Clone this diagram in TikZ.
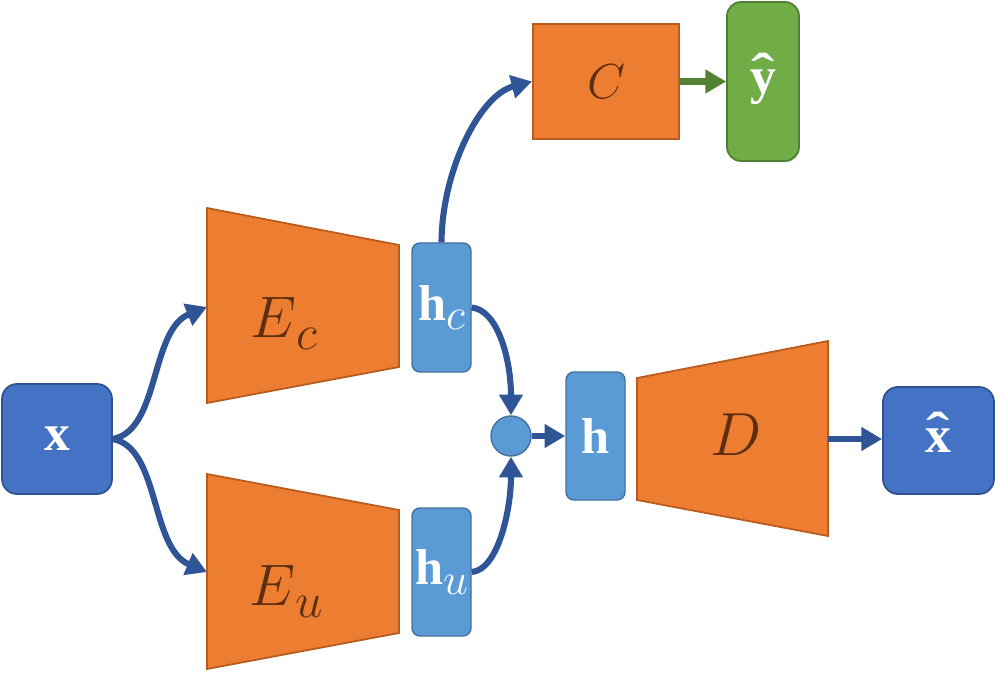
\RequirePackage{fix-cm}
\documentclass[tikz,border=0pt]{standalone}
\usepackage{graphicx}
\usepackage{fontspec}
\setmainfont{Liberation Serif}
\usetikzlibrary{arrows.meta}
\definecolor{dblue}{HTML}{4472C4}
\definecolor{dbluebd}{HTML}{2F528F}
\definecolor{lblue}{HTML}{5B9BD5}
\definecolor{lbluebd}{HTML}{41719C}
\definecolor{orng}{HTML}{ED7D31}
\definecolor{orngbd}{HTML}{B95B1E}
\definecolor{grn}{HTML}{70AD47}
\definecolor{grnbd}{HTML}{507E32}
\definecolor{arrblue}{HTML}{2F5597}
\definecolor{arrgrn}{HTML}{548235}
\definecolor{labbrown}{HTML}{5E2E10}
\newcommand{\hatbold}[1]{\ooalign{\textbf{#1}\cr\hidewidth\raisebox{0.07em}{\scalebox{1.35}[1]{\textbf{ˆ}}}\hidewidth\cr}}
\tikzset{
  dbox/.style={draw=dbluebd, fill=dblue, line width=1.5pt, rounded corners=0.45cm, text=white, inner sep=0pt},
  lbox/.style={draw=lbluebd, fill=lblue, line width=1.2pt, rounded corners=0.24cm, text=white, inner sep=0pt},
  gbox/.style={draw=grnbd, fill=grn, line width=1.5pt, rounded corners=0.42cm, text=white, inner sep=0pt},
  obox/.style={draw=orngbd, fill=orng, line width=1.5pt, text=labbrown, inner sep=0pt},
  trap/.style={draw=orngbd, fill=orng, line width=1.5pt},
  lab/.style={text=labbrown, inner sep=0pt},
  arr/.style={draw=arrblue, line width=5.2pt, -{Triangle[length=0.62cm,width=0.68cm]}},
  garr/.style={draw=arrgrn, line width=5.2pt, -{Triangle[length=0.62cm,width=0.68cm]}},
}
\begin{document}
\begin{tikzpicture}[x=0.03cm,y=-0.03cm]
\useasboundingbox (0,0) rectangle (998,673);
% encoders and decoder
\draw[trap] (207,208) -- (399,245) -- (399,367) -- (207,403) -- cycle;
\draw[trap] (207,474) -- (399,510) -- (399,633) -- (207,669) -- cycle;
\draw[trap] (637,378) -- (828,341) -- (828,536) -- (637,500) -- cycle;
\coordinate (EcIn) at (207,307);
\coordinate (EuIn) at (207,572);
\coordinate (Dout) at (828,439);
\node[lab, anchor=base west] (Ecl) at (250,337) {\fontsize{50}{50}\selectfont$E$\raisebox{-11pt}{\fontsize{42}{42}\selectfont$c$}};
\node[lab, anchor=base west] (Eul) at (249,605) {\fontsize{50}{50}\selectfont$E$\raisebox{-11pt}{\fontsize{42}{42}\selectfont$u$}};
\node[lab, anchor=base] (Dl) at (736,455) {\fontsize{52}{52}\selectfont$D$};
% boxes
\node[dbox, minimum width=3.3cm, minimum height=3.3cm] (x) at (57,439) {\fontsize{44}{44}\selectfont\textbf{x}};
\node[lbox, minimum width=1.77cm, minimum height=3.87cm] (hc) at (441.5,307.5) {\fontsize{43}{43}\selectfont\textbf{h}\raisebox{-8pt}{\fontsize{38}{38}\selectfont$c$}};
\node[lbox, minimum width=1.77cm, minimum height=3.84cm] (hu) at (441.5,572) {\fontsize{43}{43}\selectfont\textbf{h}\raisebox{-8pt}{\fontsize{38}{38}\selectfont$u$}};
\node[circle, draw=lbluebd, fill=lblue, line width=1.2pt, minimum size=1.2cm, inner sep=0pt] (sum) at (511,436) {};
\node[lbox, minimum width=1.77cm, minimum height=3.84cm] (h) at (595.5,436) {\fontsize{43}{43}\selectfont\textbf{h}};
\node[obox, minimum width=4.38cm, minimum height=3.45cm] (C) at (606,81.5) {\fontsize{42}{42}\selectfont$C$};
\node[gbox, minimum width=2.16cm, minimum height=4.77cm] (yh) at (763,81.5) {\fontsize{44}{44}\selectfont\hatbold{y}};
\node[dbox, minimum width=3.33cm, minimum height=3.21cm] (xh) at (938.5,440.5) {\fontsize{44}{44}\selectfont\hatbold{x}};
% connectors
\draw[arr] (x.east) .. controls (160,430) and (150,330) .. (EcIn);
\draw[arr] (x.east) .. controls (160,448) and (150,548) .. (EuIn);
\draw[arr] (hc.north) .. controls (442,170) and (480,95) .. (C.west);
\draw[arr] (hc.east) .. controls (498,310) and (511,360) .. (sum.north);
\draw[arr] (hu.east) .. controls (498,570) and (511,510) .. (sum.south);
\draw[arr] (sum) -- (h);
\draw[arr] (Dout) -- (Dout -| xh.west);
\draw[garr] (C) -- (yh);
\end{tikzpicture}
\end{document}
